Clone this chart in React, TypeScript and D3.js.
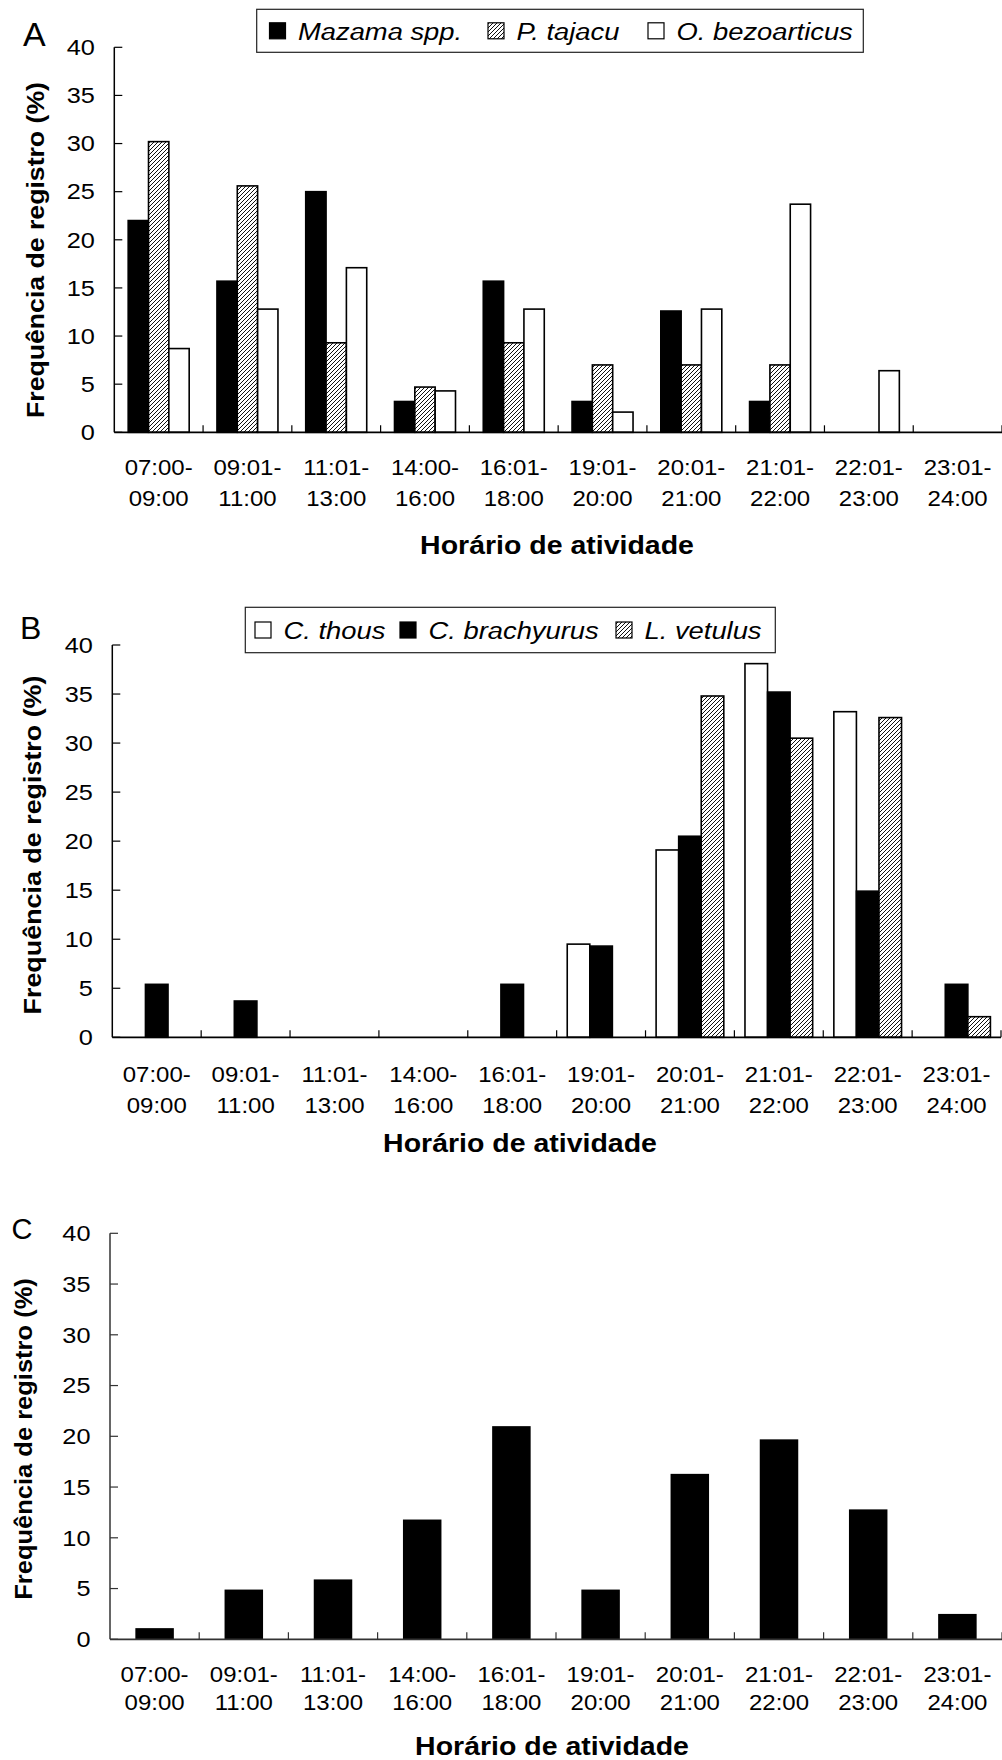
import React from "react";
import * as d3 from "d3";

// ---------- data ----------
const tickLine1 = ["07:00-", "09:01-", "11:01-", "14:00-", "16:01-", "19:01-", "20:01-", "21:01-", "22:01-", "23:01-"];
const tickLine2 = ["09:00", "11:00", "13:00", "16:00", "18:00", "20:00", "21:00", "22:00", "23:00", "24:00"];
const yTicks = [0, 5, 10, 15, 20, 25, 30, 35, 40];

// Panel A
const mazama = [22.0, 15.7, 25.0, 3.2, 15.7, 3.2, 12.6, 3.2, 0, 0];
const tajacu = [30.2, 25.6, 9.3, 4.7, 9.3, 7.0, 7.0, 7.0, 0, 0];
const bezoarticus = [8.7, 12.8, 17.1, 4.3, 12.8, 2.1, 12.8, 23.7, 6.4, 0];
// Panel B
const thous = [0, 0, 0, 0, 0, 9.5, 19.1, 38.1, 33.2, 0];
const brachyurus = [5.4, 3.7, 0, 0, 5.4, 9.3, 20.5, 35.2, 14.9, 5.4];
const vetulus = [0, 0, 0, 0, 0, 0, 34.8, 30.5, 32.6, 2.1];
// Panel C
const panelCValues = [1.1, 4.9, 5.9, 11.8, 21.0, 4.9, 16.3, 19.7, 12.8, 2.5];

const xTitle = "Horário de atividade";
const yTitle = "Frequência de registro (%)";

const FONT = "'Liberation Sans', Arial, Helvetica, sans-serif";

type Series = { name: string; values: number[]; fill: string };

const seriesA: Series[] = [
  { name: "Mazama spp.", values: mazama, fill: "black" },
  { name: "P. tajacu", values: tajacu, fill: "url(#hatch)" },
  { name: "O. bezoarticus", values: bezoarticus, fill: "white" },
];
const seriesB: Series[] = [
  { name: "C. thous", values: thous, fill: "white" },
  { name: "C. brachyurus", values: brachyurus, fill: "black" },
  { name: "L. vetulus", values: vetulus, fill: "url(#hatch)" },
];
const seriesC: Series[] = [{ name: "C", values: panelCValues, fill: "black" }];

function T(props: {
  x: number; y: number; size: number; sx?: number; anchor?: string; weight?: string | number;
  italic?: boolean; rotate?: number; children: React.ReactNode;
}) {
  const { x, y, size, sx = 1, anchor = "start", weight = "normal", italic = false, rotate = 0, children } = props;
  return (
    <text
      transform={`translate(${x},${y}) rotate(${rotate}) scale(${sx},1)`}
      fontSize={size}
      fontFamily={FONT}
      fontWeight={weight}
      fontStyle={italic ? "italic" : "normal"}
      textAnchor={anchor}
      fill="black"
    >
      {children}
    </text>
  );
}

type PanelCfg = {
  letter: string; letterX: number; letterY: number; letterSize: number;
  x0: number; x1: number; yTop: number; yZero: number;
  groupW: number; series: Series[]; stroke: boolean; axisColor: string;
  lab1: number; lab2: number;
  xTitleX: number; xTitleY: number;
  yTitleX: number; yTitleY: number; yTitleSx: number;
  legend?: { x0: number; x1: number; y0: number; y1: number; items: number[] };
};

function Panel({ cfg }: { cfg: PanelCfg }) {
  const n = tickLine1.length;
  const x = d3.scaleBand<number>().domain(d3.range(n)).range([cfg.x0, cfg.x1]).padding(0);
  const y = d3.scaleLinear().domain([0, 40]).range([cfg.yZero, cfg.yTop]);
  const bw = x.bandwidth();
  const inner = d3.scaleBand<number>().domain(d3.range(cfg.series.length)).range([0, cfg.groupW]).padding(0);
  const ac = cfg.axisColor;
  return (
    <g>
      <T x={cfg.letterX} y={cfg.letterY} size={cfg.letterSize}>{cfg.letter}</T>
      {/* bars */}
      {cfg.series.map((s, si) =>
        s.values.map((v, i) => {
          const bx = (x(i) as number) + (bw - cfg.groupW) / 2 + (inner(si) as number);
          return (
            <rect
              key={`${si}-${i}`}
              x={bx}
              y={y(v)}
              width={inner.bandwidth()}
              height={y(0) - y(v)}
              fill={s.fill}
              stroke={cfg.stroke ? "black" : "none"}
              strokeWidth={1.6}
            />
          );
        })
      )}
      {/* y axis */}
      <line x1={cfg.x0} x2={cfg.x0} y1={y(40)} y2={y(0)} stroke={ac} strokeWidth={1.5} />
      {yTicks.map((t) => (
        <g key={t}>
          <line x1={cfg.x0} x2={cfg.x0 + 8} y1={y(t)} y2={y(t)} stroke={ac} strokeWidth={1.2} />
          <T x={cfg.x0 - 19.5} y={y(t) + 7.8} size={22} sx={1.15} anchor="end">{t}</T>
        </g>
      ))}
      {/* x axis */}
      <line x1={cfg.x0} x2={cfg.x1} y1={y(0)} y2={y(0)} stroke={ac} strokeWidth={1.8} />
      {d3.range(1, n + 1).map((i) => {
        const tx = cfg.x0 + i * bw;
        return <line key={i} x1={tx} x2={tx} y1={y(0)} y2={y(0) - 7} stroke={ac} strokeWidth={1.2} />;
      })}
      {tickLine1.map((l, i) => {
        const cx = (x(i) as number) + bw / 2;
        return (
          <g key={i}>
            <T x={cx} y={cfg.yZero + cfg.lab1} size={22} sx={1.09} anchor="middle">{l}</T>
            <T x={cx} y={cfg.yZero + cfg.lab2} size={22} sx={1.09} anchor="middle">{tickLine2[i]}</T>
          </g>
        );
      })}
      <T x={cfg.xTitleX} y={cfg.xTitleY} size={26.5} sx={1.075} anchor="middle" weight="bold">{xTitle}</T>
      <T x={cfg.yTitleX} y={cfg.yTitleY} size={24} sx={cfg.yTitleSx} anchor="middle" weight="bold" rotate={-90}>{yTitle}</T>
      {cfg.legend && (
        <g>
          <rect
            x={cfg.legend.x0}
            y={cfg.legend.y0}
            width={cfg.legend.x1 - cfg.legend.x0}
            height={cfg.legend.y1 - cfg.legend.y0}
            fill="white"
            stroke="#222"
            strokeWidth={1.2}
          />
          {cfg.series.map((s, si) => {
            const sx0 = cfg.legend!.items[si];
            const cy = (cfg.legend!.y0 + cfg.legend!.y1) / 2;
            return (
              <g key={si}>
                <rect x={sx0} y={cy - 8} width={16} height={16} fill={s.fill} stroke="black" strokeWidth={1.2} />
                <T x={sx0 + 28.5} y={cy + 9} size={24} sx={1.14} italic>{s.name}</T>
              </g>
            );
          })}
        </g>
      )}
    </g>
  );
}

const panels: PanelCfg[] = [
  {
    letter: "A", letterX: 23, letterY: 46, letterSize: 34,
    x0: 114.3, x1: 1002, yTop: 47.3, yZero: 432.3,
    groupW: 61, series: seriesA, stroke: true, axisColor: "black",
    lab1: 42.7, lab2: 73.7, xTitleX: 557, xTitleY: 554,
    yTitleX: 43.5, yTitleY: 250, yTitleSx: 1.11,
    legend: { x0: 256.7, x1: 863.3, y0: 9.3, y1: 52.3, items: [269.5, 488, 648] },
  },
  {
    letter: "B", letterX: 20, letterY: 639.3, letterSize: 32,
    x0: 112.3, x1: 1001, yTop: 645, yZero: 1037.3,
    groupW: 67.7, series: seriesB, stroke: true, axisColor: "black",
    lab1: 44.4, lab2: 76, xTitleX: 520, xTitleY: 1152,
    yTitleX: 40.5, yTitleY: 845, yTitleSx: 1.12,
    legend: { x0: 245.3, x1: 775.3, y0: 607.3, y1: 652.7, items: [255, 400, 616] },
  },
  {
    letter: "C", letterX: 11.5, letterY: 1239, letterSize: 29,
    x0: 110, x1: 1002, yTop: 1233.3, yZero: 1639.3,
    groupW: 38.5, series: seriesC, stroke: false, axisColor: "#333",
    lab1: 42.7, lab2: 71, xTitleX: 552, xTitleY: 1755,
    yTitleX: 32, yTitleY: 1439, yTitleSx: 1.063,
  },
];

export default function App() {
  return (
    <svg
      width={1002}
      height={1760}
      viewBox="0 0 1002 1760"
      style={{ position: "absolute", left: 0, top: 0, display: "block", background: "white" }}
    >
      <defs>
        <pattern id="hatch" patternUnits="userSpaceOnUse" width={4} height={4}>
          <rect width={4} height={4} fill="white" />
          <path d="M-1,1 L1,-1 M0,4 L4,0 M3,5 L5,3" stroke="#111" strokeWidth={1} />
        </pattern>
      </defs>
      <rect width={1002} height={1760} fill="white" />
      {panels.map((p) => (
        <Panel key={p.letter} cfg={p} />
      ))}
    </svg>
  );
}
